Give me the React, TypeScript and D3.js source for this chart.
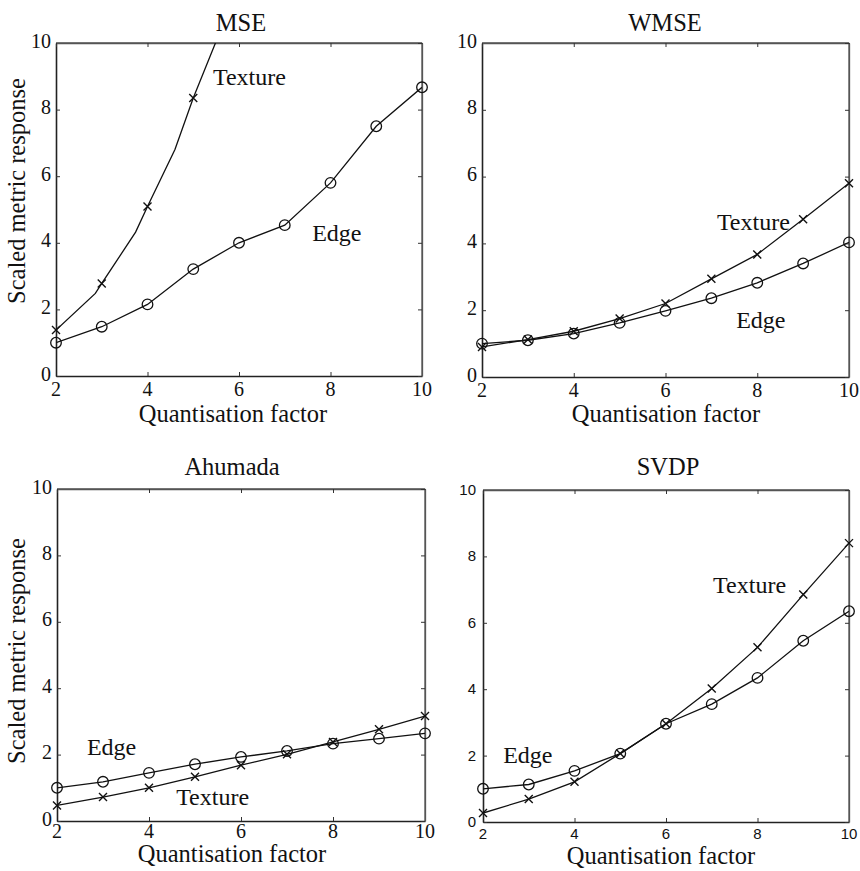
import { useRef, useEffect } from 'react';
import * as d3 from 'd3';

// quantisation factors (x axis)
const qFactor = [2, 3, 4, 5, 6, 7, 8, 9, 10];
const xTicks = [2, 4, 6, 8, 10];
const yTicks = [0, 2, 4, 6, 8, 10];

// MSE
const mseEdge = [1.0, 1.48, 2.15, 3.21, 4.0, 4.53, 5.8, 7.5, 8.67];
const mseTextureQ = [2, 3, 4, 5];
const mseTexture = [1.38, 2.78, 5.09, 8.35];
// the texture line has extra vertices between the markers and runs off the top
const mseTraceQ = [2, 2.86, 3, 3.74, 4, 4.6, 5, 5.5];
const mseTrace = [1.38, 2.48, 2.78, 4.32, 5.09, 6.8, 8.35, 10.05];

// WMSE
const wmseEdge = [1.0, 1.1, 1.3, 1.62, 1.98, 2.36, 2.82, 3.4, 4.03];
const wmseTexture = [0.9, 1.12, 1.37, 1.75, 2.2, 2.94, 3.67, 4.72, 5.8];

// Ahumada
const ahuEdge = [1.0, 1.18, 1.45, 1.71, 1.93, 2.11, 2.33, 2.48, 2.64];
const ahuTexture = [0.47, 0.72, 1.0, 1.33, 1.68, 2.01, 2.38, 2.76, 3.16];

// SVDP
const svdpEdge = [1.0, 1.13, 1.54, 2.06, 2.96, 3.55, 4.34, 5.46, 6.35];
const svdpTexture = [0.27, 0.69, 1.21, 2.06, 2.96, 4.02, 5.26, 6.85, 8.4];

const SERIF = '"Liberation Serif", "Times New Roman", serif';
const SANS = '"Liberation Sans", Arial, sans-serif';
const LABEL_SIZE = 24.5;

export default function App() {
  const ref = useRef(null);

  useEffect(() => {
    const svg = d3.select(ref.current);
    svg.selectAll('*').remove();

    const panels = [
      {
        id: 'p1', title: 'MSE', box: [56, 422, 43, 376], titleX: 241, titleY: 31,
        xLabelX: 233, xLabelY: 422, yLabelY: 191, tickFont: SERIF, xTickDy: 20,
        edge: qFactor.map((q, i) => [q, mseEdge[i]]),
        texture: mseTextureQ.map((q, i) => [q, mseTexture[i]]),
        trace: mseTraceQ.map((q, i) => [q, mseTrace[i]]),
        labels: [['Texture', 5.43, 8.74], ['Edge', 7.6, 4.05]],
      },
      {
        id: 'p2', title: 'WMSE', box: [482, 849, 43, 377], titleX: 665, titleY: 31,
        xLabelX: 666, xLabelY: 422, yLabelY: null, tickFont: SERIF, xTickDy: 20,
        edge: qFactor.map((q, i) => [q, wmseEdge[i]]),
        texture: qFactor.map((q, i) => [q, wmseTexture[i]]),
        trace: null,
        labels: [['Texture', 7.12, 4.4], ['Edge', 7.54, 1.47]],
      },
      {
        id: 'p3', title: 'Ahumada', box: [57, 425, 489, 821], titleX: 232, titleY: 475,
        xLabelX: 232, xLabelY: 862, yLabelY: 651, tickFont: SERIF, xTickDy: 17,
        edge: qFactor.map((q, i) => [q, ahuEdge[i]]),
        texture: qFactor.map((q, i) => [q, ahuTexture[i]]),
        trace: null,
        labels: [['Edge', 2.65, 1.99], ['Texture', 4.59, 0.48]],
      },
      {
        id: 'p4', title: 'SVDP', box: [483, 849, 490, 822], titleX: 668, titleY: 475,
        xLabelX: 661, xLabelY: 864, yLabelY: null, tickFont: SANS, xTickDy: 17,
        edge: qFactor.map((q, i) => [q, svdpEdge[i]]),
        texture: qFactor.map((q, i) => [q, svdpTexture[i]]),
        trace: null,
        labels: [['Texture', 7.03, 6.9], ['Edge', 2.44, 1.78]],
      },
    ];

    panels.forEach((p) => {
      const [l, r, t, b] = p.box;
      const x = d3.scaleLinear().domain([2, 10]).range([l, r]);
      const y = d3.scaleLinear().domain([0, 10]).range([b, t]);
      const g = svg.append('g');
      const sansTicks = p.tickFont === SANS;
      const tickSize = sansTicks ? 15 : 20;

      g.append('clipPath').attr('id', 'clip-' + p.id)
        .append('rect').attr('x', l).attr('y', t).attr('width', r - l).attr('height', b - t);

      // frame: dark left/bottom, lighter top/right
      g.append('line').attr('x1', l).attr('x2', r).attr('y1', t).attr('y2', t)
        .attr('stroke', '#555').attr('stroke-width', 1.3);
      g.append('line').attr('x1', r).attr('x2', r).attr('y1', t).attr('y2', b)
        .attr('stroke', '#555').attr('stroke-width', 1.3);

      // inward tick marks on all four sides (labels drawn separately below)
      const bottom = g.append('g').attr('transform', `translate(0,${b})`)
        .call(d3.axisBottom(x).tickValues(xTicks).tickSizeInner(-4).tickSizeOuter(0).tickFormat(() => ''));
      const left = g.append('g').attr('transform', `translate(${l},0)`)
        .call(d3.axisLeft(y).tickValues(yTicks).tickSizeInner(-4).tickSizeOuter(0).tickFormat(() => ''));
      g.append('g').attr('transform', `translate(0,${t})`)
        .call(d3.axisTop(x).tickValues(xTicks).tickSizeInner(-4).tickSizeOuter(0).tickFormat(() => ''));
      g.append('g').attr('transform', `translate(${r},0)`)
        .call(d3.axisRight(y).tickValues(yTicks).tickSizeInner(-4).tickSizeOuter(0).tickFormat(() => ''));

      g.selectAll('.domain').attr('stroke', '#555').attr('stroke-width', 1.3);
      bottom.select('.domain').attr('stroke', '#222').attr('stroke-width', 1.6);
      left.select('.domain').attr('stroke', '#222').attr('stroke-width', 1.6);
      g.selectAll('.tick line').attr('stroke', '#333');

      // tick labels
      g.selectAll(null).data(xTicks).join('text')
        .attr('x', (d) => x(d)).attr('y', b + p.xTickDy)
        .attr('text-anchor', 'middle')
        .attr('font-family', p.tickFont).attr('font-size', tickSize).attr('fill', '#111')
        .text((d) => String(d));
      g.selectAll(null).data(yTicks).join('text')
        .attr('x', l - (sansTicks ? 7 : 5)).attr('y', (d) => y(d) + (sansTicks ? 5 : 4.5))
        .attr('text-anchor', 'end')
        .attr('font-family', p.tickFont).attr('font-size', tickSize).attr('fill', '#111')
        .text((d) => String(d));

      // titles and axis labels
      g.append('text').attr('x', p.titleX).attr('y', p.titleY).attr('text-anchor', 'middle')
        .attr('font-family', SERIF).attr('font-size', LABEL_SIZE).attr('fill', '#111').text(p.title);
      g.append('text').attr('x', p.xLabelX).attr('y', p.xLabelY).attr('text-anchor', 'middle')
        .attr('font-family', SERIF).attr('font-size', LABEL_SIZE).attr('fill', '#111').text('Quantisation factor');
      if (p.yLabelY !== null) {
        g.append('text').attr('transform', `translate(25,${p.yLabelY}) rotate(-90)`)
          .attr('text-anchor', 'middle')
          .attr('font-family', SERIF).attr('font-size', LABEL_SIZE).attr('fill', '#111')
          .text('Scaled metric response');
      }

      const line = d3.line().x((d) => x(d[0])).y((d) => y(d[1]));
      const plot = g.append('g').attr('clip-path', `url(#clip-${p.id})`);

      plot.append('path').datum(p.edge).attr('d', line)
        .attr('fill', 'none').attr('stroke', '#111').attr('stroke-width', 1.3);
      plot.append('path').datum(p.trace || p.texture).attr('d', line)
        .attr('fill', 'none').attr('stroke', '#111').attr('stroke-width', 1.3);

      // edge markers: open circles
      g.selectAll(null).data(p.edge).join('circle')
        .attr('cx', (d) => x(d[0])).attr('cy', (d) => y(d[1])).attr('r', 5.3)
        .attr('fill', 'none').attr('stroke', '#111').attr('stroke-width', 1.3);

      // texture markers: crosses
      const s = 4;
      g.selectAll(null).data(p.texture).join('path')
        .attr('d', (d) => {
          const cx = x(d[0]);
          const cy = y(d[1]);
          return `M${cx - s},${cy - s}L${cx + s},${cy + s}M${cx - s},${cy + s}L${cx + s},${cy - s}`;
        })
        .attr('fill', 'none').attr('stroke', '#111').attr('stroke-width', 1.4);

      // in-plot series labels
      g.selectAll(null).data(p.labels).join('text')
        .attr('x', (d) => x(d[1])).attr('y', (d) => y(d[2]))
        .attr('font-family', SERIF).attr('font-size', 24).attr('fill', '#111')
        .text((d) => d[0]);
    });
  }, []);

  return (
    <svg ref={ref} width={860} height={871}
      style={{ position: 'absolute', left: 0, top: 0, background: '#fff' }} />
  );
}
